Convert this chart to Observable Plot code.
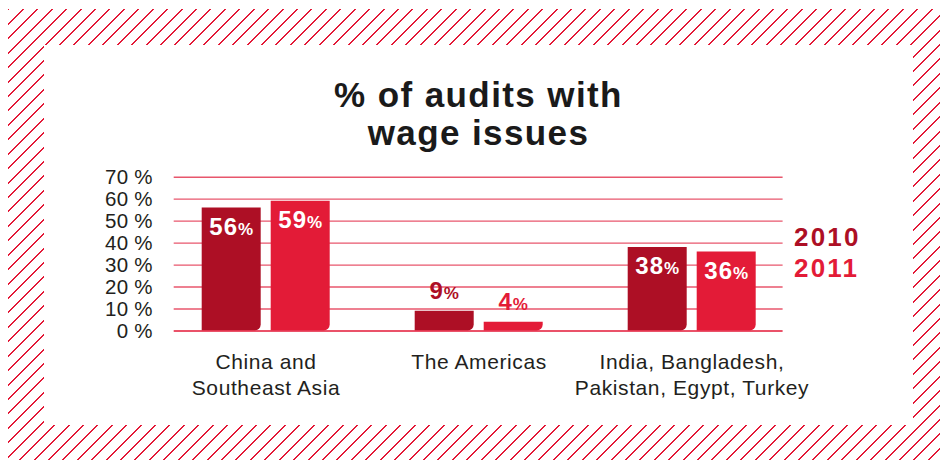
<!DOCTYPE html>
<html>
<head>
<meta charset="utf-8">
<script src="https://cdn.jsdelivr.net/npm/d3@7"></script>
<script src="https://cdn.jsdelivr.net/npm/@observablehq/plot@0.6"></script>
<style>
html, body { margin: 0; padding: 0; background: #fff; }
body { width: 940px; height: 460px; position: relative; overflow: hidden; font-family: "Liberation Sans", Arial, Helvetica, sans-serif; }
#hatch { position: absolute; left: 8px; top: 9px; width: 932px; height: 451px;
  background: repeating-linear-gradient(135deg, #e31937 0px, #e31937 1.4px, #ffffff 1.4px, #ffffff 10.2px); }
#panel { position: absolute; left: 44px; top: 45px; width: 869px; height: 380px; background: #fff; }
#title { position: absolute; left: 0; top: 31px; width: 869px; margin: 0; text-align: center; font-weight: bold;
  font-size: 35px; line-height: 38px; letter-spacing: 1.4px; color: #1a1a1a; }
#chart { position: absolute; left: 0; top: 107px; }
#legend { position: absolute; left: 750px; top: 177px; font-weight: bold; font-size: 26px; line-height: 30.6px; letter-spacing: 2.2px; }
g[aria-label="fx-axis tick label"] text { letter-spacing: 0.6px; }
g[aria-label="y-axis tick label"] text { letter-spacing: 0.3px; }
g[aria-label="text"] text { letter-spacing: 1px; }
</style>
</head>
<body>
<div id="hatch"></div>
<div id="panel">
  <h1 id="title">% of audits with<br>wage issues</h1>
  <div id="chart"></div>
  <div id="legend"></div>
</div>
<script>
const regions = ["China and\nSoutheast Asia", "The Americas", "India, Bangladesh,\nPakistan, Egypt, Turkey"];
const years = ["2010", "2011"];
const values2010 = [56, 9, 38];
const values2011 = [59, 4, 36];
const yTicks = [0, 10, 20, 30, 40, 50, 60, 70];
const yearColors = ["#ad0f25", "#e31b37"];

const data = regions.flatMap((r, i) => [
  {region: r, year: years[0], value: values2010[i]},
  {region: r, year: years[1], value: values2011[i]}
]);

const last = regions.length - 1;
const gridMarks = regions.map((r, i) =>
  Plot.ruleY(yTicks.filter(d => d > 0), {y: d => d, fx: () => r, insetLeft: i === 0 ? 14.7 : 0, insetRight: i === last ? 15.4 : 0, stroke: "#e8566c", strokeWidth: 1.4})
);
const baseMarks = regions.map((r, i) =>
  Plot.ruleY([0], {y: d => d, fx: () => r, insetLeft: i === 0 ? 14.7 : 0, insetRight: i === last ? 15.4 : 0, stroke: "#e31937", strokeWidth: 1.6})
);

const plot = Plot.plot({
  width: 869,
  height: 273,
  marginTop: 24.7,
  marginBottom: 94.5,
  marginLeft: 114.3,
  marginRight: 114.9,
  style: {fontFamily: "'Liberation Sans', Arial, Helvetica, sans-serif", background: "transparent", overflow: "visible"},
  fx: {domain: regions, padding: 0, label: null},
  x: {domain: years, paddingInner: 10 / 70, paddingOuter: 0.595, axis: null},
  y: {domain: [0, 70], axis: null},
  color: {domain: years, range: yearColors},
  marks: [
    ...gridMarks,
    Plot.axisY(yTicks, {tickSize: 0, tickPadding: 6.6, tickFormat: d => d + " %", fontSize: 20.5, fill: "#231f20", label: null}),
    Plot.barY(data, {fx: "region", x: "year", y: "value", fill: "year", rx2y2: 6}),
    ...baseMarks,
    Plot.text(data.filter(d => d.value >= 20), {fx: "region", x: "year", y: "value", text: d => d.value + "%", fill: "#ffffff", fontWeight: "bold", fontSize: 24, dy: 19.3}),
    Plot.text(data.filter(d => d.value < 20), {fx: "region", x: "year", y: "value", text: d => d.value + "%", fill: "year", fontWeight: "bold", fontSize: 24, dy: -19.7}),
    Plot.axisFx({anchor: "bottom", tickSize: 0, tickPadding: 19, fontSize: 21, lineHeight: 1.24, fill: "#231f20", label: null})
  ]
});

// smaller percent sign in value labels
const svgNS = "http://www.w3.org/2000/svg";
plot.querySelectorAll('g[aria-label="text"] text').forEach(t => {
  const s = t.textContent;
  if (s.endsWith("%")) {
    t.textContent = s.slice(0, -1);
    const ts = document.createElementNS(svgNS, "tspan");
    ts.setAttribute("font-size", "17");
    ts.textContent = "%";
    t.appendChild(ts);
  }
});
document.getElementById("chart").appendChild(plot);

const legend = document.getElementById("legend");
years.forEach((y, i) => {
  const d = document.createElement("div");
  d.textContent = y;
  d.style.color = yearColors[i];
  legend.appendChild(d);
});
</script>
</body>
</html>
